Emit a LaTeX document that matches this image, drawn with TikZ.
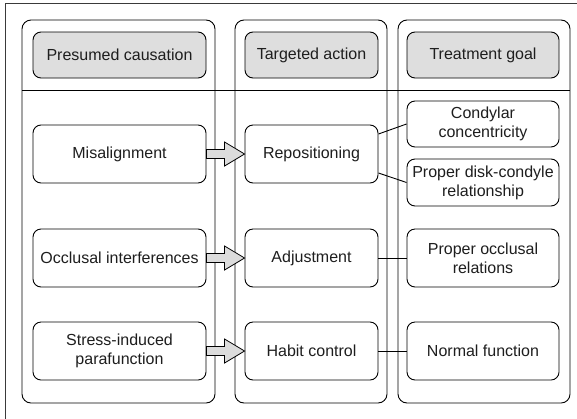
\documentclass[tikz,border=0pt]{standalone}
\usepackage{fontspec}
\setmainfont{Liberation Sans}
\usetikzlibrary{calc}
\definecolor{headfill}{HTML}{DEDEDE}
\definecolor{arrowfill}{HTML}{DCDCDC}
\definecolor{frame}{HTML}{3A3A3A}
\definecolor{ink}{HTML}{1E1E1E}
\tikzset{
  lane/.style={draw=black, line width=0.9pt, rounded corners=9pt},
  box/.style={draw=black, line width=0.9pt, rounded corners=8pt, fill=white,
    text=ink, align=center, inner sep=2pt,
    font=\fontsize{16}{19}\selectfont},
  head/.style={box, fill=headfill},
  link/.style={draw=black, line width=0.9pt},
  blockarrow/.style={draw=black, line width=0.8pt, fill=arrowfill, line join=miter},
}
% fat arrow from the east side of #1 to the west side of #2
\newcommand{\fatarrow}[2]{%
  \draw[blockarrow]
    ($(#1.east)+(0,-4.5)$) -- ($(#2.west)+(-20,-4.5)$) -- ($(#2.west)+(-20,-12)$)
    -- (#2.west) -- ($(#2.west)+(-20,12)$) -- ($(#2.west)+(-20,4.5)$)
    -- ($(#1.east)+(0,4.5)$) -- cycle;}
\begin{document}
\begin{tikzpicture}[x=1pt, y=-1pt]
\useasboundingbox (0,0) rectangle (577,418);
\fill[white] (0,0) rectangle (577,418);
% outer frame, only its top and left edges lie inside the page
\draw[frame, line width=1pt] (5,430) -- (5,3.5) -- (590,3.5);

% the three lanes
\draw[lane] (22,20) rectangle (215,403);
\draw[lane] (235,20) rectangle (387,403);
\draw[lane] (398,20) rectangle (570,403);
\draw[link] (22,90) -- (570,90);

% lane headers
\node[head, minimum width=173pt, minimum height=46pt] (h1) at (119.5,55) {Presumed causation};
\node[head, minimum width=133pt, minimum height=46pt] (h2) at (311.5,55) {Targeted action};
\node[head, minimum width=152pt, minimum height=46pt] (h3) at (483,55) {Treatment goal};

% presumed causation
\node[box, minimum width=173pt, minimum height=58pt] (mis) at (119.5,154) {Misalignment};
\node[box, minimum width=173pt, minimum height=58pt] (occ) at (119.5,258) {Occlusal interferences};
\node[box, minimum width=173pt, minimum height=58pt] (str) at (119.5,351) {Stress-induced\\parafunction};

% targeted action
\node[box, minimum width=133pt, minimum height=58pt] (rep) at (311.5,154) {Repositioning};
\node[box, minimum width=133pt, minimum height=58pt] (adj) at (311.5,258) {Adjustment};
\node[box, minimum width=133pt, minimum height=58pt] (hab) at (311.5,351) {Habit control};

% treatment goal
\node[box, minimum width=152pt, minimum height=46pt] (con) at (483,124) {Condylar\\concentricity};
\node[box, minimum width=152pt, minimum height=47pt] (dis) at (483,182.5) {Proper disk-condyle\\relationship};
\node[box, minimum width=152pt, minimum height=58pt] (pro) at (483,258) {Proper occlusal\\relations};
\node[box, minimum width=152pt, minimum height=58pt] (nor) at (483,351) {Normal function};

% causation -> action
\fatarrow{mis}{rep}
\fatarrow{occ}{adj}
\fatarrow{str}{hab}

% action -- goal
\draw[link] ($(rep.east)+(0,-20)$) -- (con.west);
\draw[link] ($(rep.east)+(0,19)$) -- (dis.west);
\draw[link] (adj.east) -- (pro.west);
\draw[link] (hab.east) -- (nor.west);
\end{tikzpicture}
\end{document}
